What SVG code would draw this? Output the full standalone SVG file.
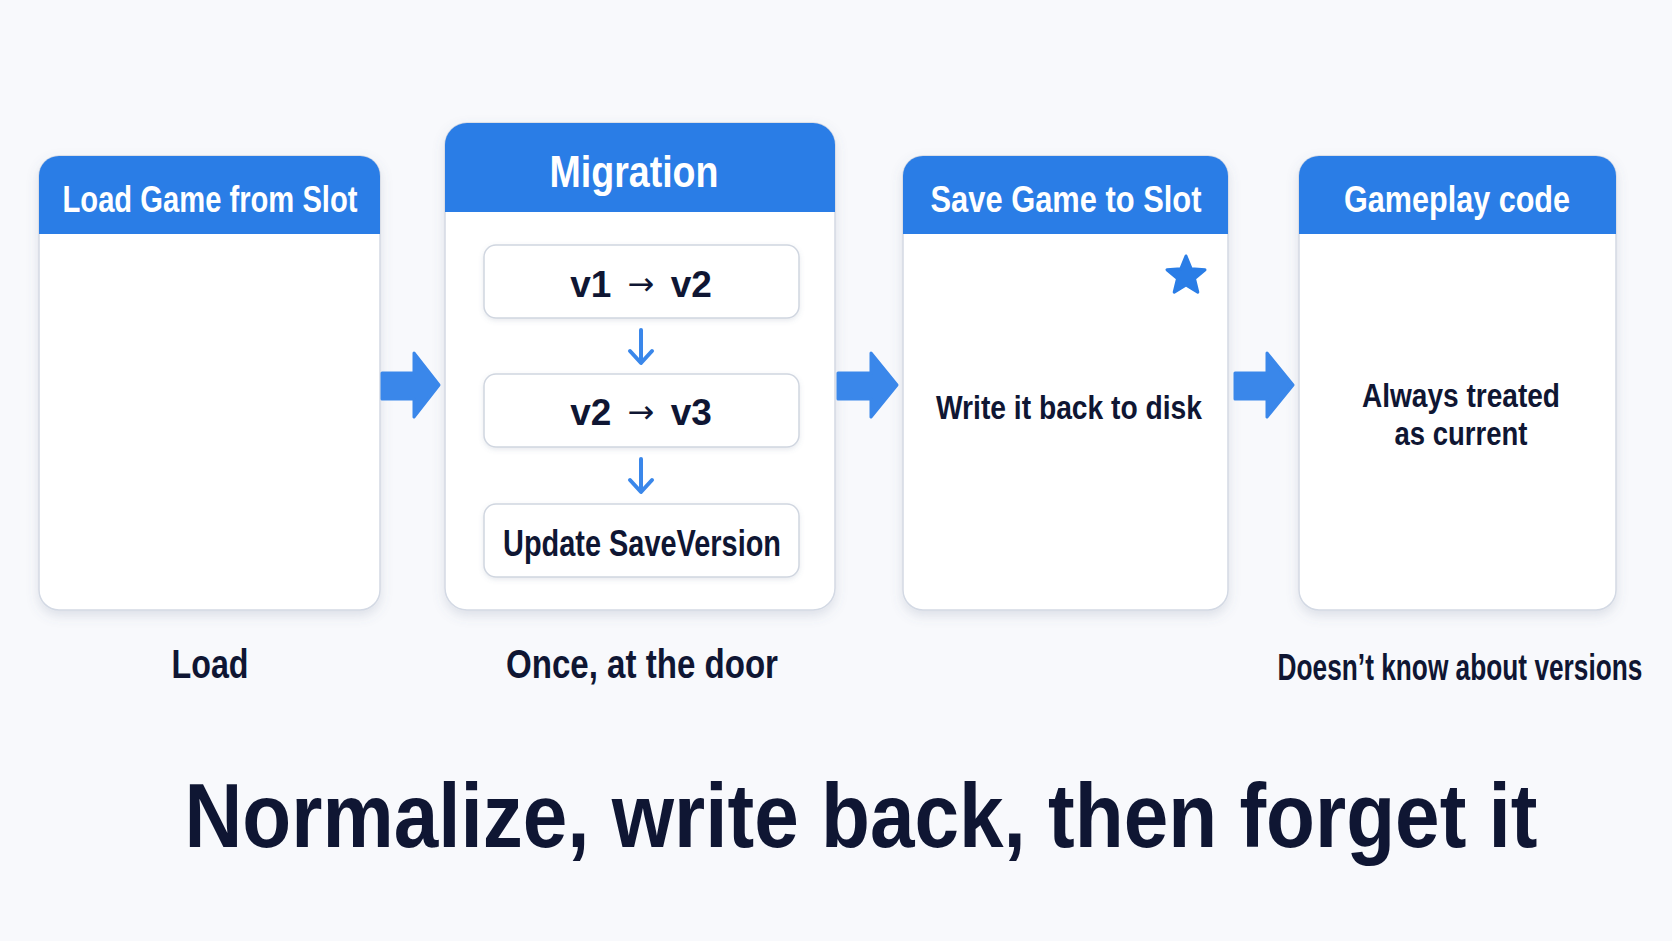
<svg xmlns="http://www.w3.org/2000/svg" width="1672" height="941" viewBox="0 0 1672 941">
<style>
.card{fill:#ffffff;stroke:#d3d9e4;stroke-width:1.5;filter:url(#sh)}
.hdr{fill:#2a7de6}
.ht{font-family:"Liberation Sans",Arial,sans-serif;font-weight:bold;fill:#ffffff;text-anchor:middle}
.bt{font-family:"Liberation Sans",Arial,sans-serif;font-weight:bold;fill:#0f1633;text-anchor:middle}
.ar{font-family:"DejaVu Sans",sans-serif;font-weight:normal}
.inner{fill:#ffffff;stroke:#d0d6e0;stroke-width:1.5;filter:url(#sh2)}
.arr{fill:#3a87ea}
.dn{fill:none;stroke:#3a87ea;stroke-width:4;stroke-linecap:round;stroke-linejoin:round}
</style>
<defs>
<filter id="sh" x="-10%" y="-10%" width="120%" height="125%">
<feDropShadow dx="0" dy="5" stdDeviation="6" flood-color="#5a6a8a" flood-opacity="0.18"/>
</filter>
<filter id="sh2" x="-10%" y="-20%" width="120%" height="150%">
<feDropShadow dx="0" dy="2" stdDeviation="2.5" flood-color="#5a6a8a" flood-opacity="0.15"/>
</filter>
</defs>
<rect width="1672" height="941" fill="#f8f9fc"/>

<g id="node-load">
<rect class="card" x="39" y="156" width="341" height="454" rx="20"/>
<path class="hdr" d="M39,176 a20,20 0 0 1 20,-20 h301 a20,20 0 0 1 20,20 v58 h-341 z"/>
<text class="ht" x="210" y="212" font-size="37" textLength="295" lengthAdjust="spacingAndGlyphs">Load Game from Slot</text>
</g>

<g id="node-migration">
<rect class="card" x="445" y="123" width="390" height="487" rx="22"/>
<path class="hdr" d="M445,145 a22,22 0 0 1 22,-22 h346 a22,22 0 0 1 22,22 v67 h-390 z"/>
<text class="ht" x="634" y="187" font-size="44" textLength="169" lengthAdjust="spacingAndGlyphs">Migration</text>
<g id="step-v1v2">
<rect class="inner" x="484" y="245" width="315" height="73" rx="12"/>
<text class="bt" x="641" y="297" font-size="37" word-spacing="6">v1 <tspan class="ar" font-size="32" dy="-2">→</tspan><tspan dy="2"> v2</tspan></text>
</g>
<g id="step-v2v3">
<rect class="inner" x="484" y="374" width="315" height="73" rx="12"/>
<text class="bt" x="641" y="425" font-size="37" word-spacing="6">v2 <tspan class="ar" font-size="32" dy="-2">→</tspan><tspan dy="2"> v3</tspan></text>
</g>
<g id="step-update">
<rect class="inner" x="484" y="504" width="315" height="73" rx="12"/>
<text class="bt" x="642" y="556" font-size="36" textLength="278" lengthAdjust="spacingAndGlyphs">Update SaveVersion</text>
</g>
</g>

<g id="node-save">
<rect class="card" x="903" y="156" width="325" height="454" rx="20"/>
<path class="hdr" d="M903,176 a20,20 0 0 1 20,-20 h285 a20,20 0 0 1 20,20 v58 h-325 z"/>
<text class="ht" x="1066" y="212" font-size="37" textLength="271" lengthAdjust="spacingAndGlyphs">Save Game to Slot</text>
<polygon fill="#2a7de6" stroke="#2a7de6" stroke-width="3" stroke-linejoin="round" points="1186,256 1191.2,268.8 1205,269.8 1194.5,278.7 1197.8,292.2 1186,284.9 1174.2,292.2 1177.5,278.7 1167,269.8 1180.8,268.8"/>
<text class="bt" x="1069" y="419" font-size="34" textLength="266" lengthAdjust="spacingAndGlyphs">Write it back to disk</text>
</g>

<g id="node-gameplay">
<rect class="card" x="1299" y="156" width="317" height="454" rx="20"/>
<path class="hdr" d="M1299,176 a20,20 0 0 1 20,-20 h277 a20,20 0 0 1 20,20 v58 h-317 z"/>
<text class="ht" x="1457" y="212" font-size="37" textLength="226" lengthAdjust="spacingAndGlyphs">Gameplay code</text>
<text class="bt" x="1461" y="407" font-size="34" textLength="198" lengthAdjust="spacingAndGlyphs">Always treated</text>
<text class="bt" x="1461" y="445" font-size="34" textLength="133" lengthAdjust="spacingAndGlyphs">as current</text>
</g>

<g id="connectors">
<path class="arr" stroke="#3a87ea" stroke-width="3" stroke-linejoin="round" d="M382,373 H414 V353 L439,385 L414,417 V399 H382 Z"/>
<path class="arr" stroke="#3a87ea" stroke-width="3" stroke-linejoin="round" d="M838,373 H871 V353 L897,385 L871,417 V399 H838 Z"/>
<path class="arr" stroke="#3a87ea" stroke-width="3" stroke-linejoin="round" d="M1235,373 H1267 V353 L1293,385 L1267,417 V399 H1235 Z"/>
<path class="dn" d="M641,330 V362 M630,351 L641,363 L652,351"/>
<path class="dn" d="M641,459 V491 M630,480 L641,492 L652,480"/>
</g>

<g id="labels">
<text class="bt" x="210" y="678" font-size="40" textLength="77" lengthAdjust="spacingAndGlyphs">Load</text>
<text class="bt" x="642" y="678" font-size="40" textLength="272" lengthAdjust="spacingAndGlyphs">Once, at the door</text>
<text class="bt" transform="translate(1460,680) scale(0.71,1)" x="0" y="0" font-size="37">Doesn’t know about versions</text>
<text class="bt" transform="translate(861,847) scale(0.89,1)" x="0" y="0" font-size="90">Normalize, write back, then forget it</text>
</g>
</svg>
